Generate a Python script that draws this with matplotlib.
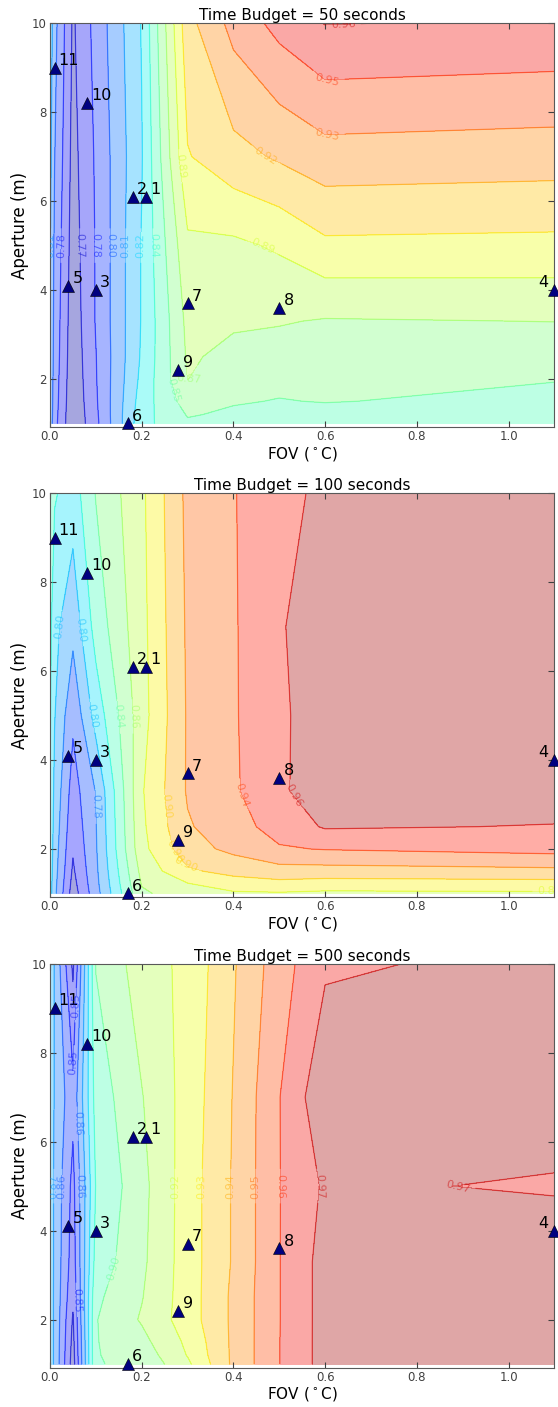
import matplotlib
matplotlib.use('Agg')
import matplotlib.pyplot as plt
import numpy as np

# grid the efficiency was evaluated on
fov = [0.0, 0.01, 0.05, 0.1, 0.2, 0.3, 0.4, 0.5, 0.6, 1.1]
aperture = [1.0, 1.2, 1.5, 2.0, 2.5, 3.3, 5.0, 7.0, 10.0]

# one row per aperture, one column per fov
eff_50 = [
    [0.805, 0.785, 0.752, 0.776, 0.835, 0.853, 0.851, 0.850, 0.849, 0.847],
    [0.806, 0.786, 0.752, 0.777, 0.834, 0.856, 0.853, 0.852, 0.851, 0.849],
    [0.807, 0.787, 0.753, 0.778, 0.832, 0.862, 0.856, 0.8545, 0.8555, 0.852],
    [0.808, 0.788, 0.754, 0.779, 0.829, 0.8702, 0.862, 0.858, 0.859, 0.8555],
    [0.809, 0.789, 0.755, 0.7795, 0.827, 0.872, 0.866, 0.864, 0.863, 0.861],
    [0.8105, 0.790, 0.756, 0.781, 0.826, 0.874, 0.872, 0.871, 0.869, 0.8702],
    [0.812, 0.792, 0.758, 0.781, 0.826, 0.882, 0.882, 0.887, 0.897, 0.896],
    [0.815, 0.7955, 0.760, 0.782, 0.824, 0.899, 0.910, 0.917, 0.924, 0.922],
    [0.820, 0.800, 0.763, 0.785, 0.826, 0.910, 0.935, 0.950, 0.9605, 0.958],
]
eff_100 = [
    [0.810, 0.785, 0.730, 0.772, 0.857, 0.870, 0.877, 0.878, 0.876, 0.877],
    [0.810, 0.786, 0.733, 0.774, 0.861, 0.878, 0.890, 0.893, 0.890, 0.891],
    [0.812, 0.788, 0.737, 0.776, 0.866, 0.897, 0.906, 0.912, 0.912, 0.915],
    [0.815, 0.790, 0.742, 0.778, 0.874, 0.912, 0.925, 0.938, 0.941, 0.947],
    [0.817, 0.792, 0.746, 0.779, 0.876, 0.918, 0.932, 0.948, 0.962, 0.959],
    [0.8195, 0.795, 0.751, 0.781, 0.878, 0.922, 0.937, 0.957, 0.970, 0.972],
    [0.823, 0.801, 0.764, 0.808, 0.872, 0.922, 0.938, 0.956, 0.972, 0.975],
    [0.826, 0.805, 0.786, 0.828, 0.874, 0.923, 0.938, 0.958, 0.972, 0.975],
    [0.832, 0.822, 0.810, 0.841, 0.876, 0.925, 0.939, 0.953, 0.965, 0.972],
]
eff_500 = [
    [0.876, 0.868, 0.835, 0.8995, 0.902, 0.918, 0.942, 0.9598, 0.974, 0.977],
    [0.876, 0.868, 0.836, 0.8995, 0.904, 0.9205, 0.942, 0.9598, 0.974, 0.977],
    [0.876, 0.868, 0.837, 0.8995, 0.907, 0.922, 0.942, 0.9598, 0.974, 0.977],
    [0.876, 0.868, 0.839, 0.8995, 0.911, 0.925, 0.942, 0.9597, 0.974, 0.977],
    [0.876, 0.868, 0.842, 0.898, 0.9095, 0.925, 0.942, 0.9597, 0.974, 0.977],
    [0.877, 0.868, 0.845, 0.894, 0.908, 0.925, 0.941, 0.9597, 0.974, 0.978],
    [0.877, 0.868, 0.847, 0.8905, 0.907, 0.925, 0.941, 0.9597, 0.9715, 0.9688],
    [0.878, 0.869, 0.853, 0.894, 0.9095, 0.924, 0.9405, 0.9597, 0.978, 0.9768],
    [0.878, 0.869, 0.838, 0.9005, 0.915, 0.9226, 0.939, 0.9555, 0.9685, 0.973],
]

levels_50 = [0.75, 0.765, 0.78, 0.795, 0.81, 0.825, 0.84, 0.855, 0.87, 0.885,
             0.90, 0.915, 0.93, 0.9450001, 0.96, 0.975]
levels_100 = [0.72, 0.74, 0.76, 0.78, 0.80, 0.82, 0.84, 0.86, 0.88, 0.90,
              0.92, 0.94, 0.96, 0.98]
levels_500 = [0.83, 0.84, 0.85, 0.86, 0.87, 0.88, 0.89, 0.90, 0.91, 0.92,
              0.93, 0.94, 0.95, 0.96, 0.97, 0.98]

budgets = [50, 100, 500]

# telescopes
tel_names = ['1', '2', '3', '4', '5', '6', '7', '8', '9', '10', '11']
tel_fov = [0.21, 0.18, 0.10, 1.10, 0.04, 0.17, 0.30, 0.50, 0.28, 0.08, 0.01]
tel_aperture = [6.1, 6.1, 4.0, 4.0, 4.1, 1.0, 3.7, 3.6, 2.2, 8.2, 9.0]

# where the contour labels sit
label_spots = [
    [(0.004, 5.0), (0.022, 5.0), (0.065, 5.0), (0.098, 5.0),
     (0.135, 5.0), (0.168, 5.0), (0.2, 5.0), (0.233, 5.0), (0.30, 6.8),
     (0.465, 5.0), (0.47, 7.0), (0.605, 7.4), (0.605, 8.7), (0.64, 9.98),
     (0.305, 1.93), (0.277, 1.78)],
    [(0.015, 7.0), (0.072, 6.94), (0.083, 4.98), (0.098, 2.95), (0.153, 4.98),
     (0.186, 4.98), (0.238, 2.95), (0.386, 3.05), (0.513, 3.05), (0.29, 2.1),
     (0.27, 1.8), (1.09, 1.04)],
    [(0.004, 5.0), (0.025, 5.0), (0.07, 5.0),
     (0.269, 5.0), (0.331, 5.0), (0.393, 5.0), (0.455, 5.0), (0.52, 5.0),
     (0.583, 5.0), (0.89, 5.0), (0.05, 9.07), (0.05, 7.78), (0.05, 6.4),
     (0.05, 2.44), (0.16, 3.07)],
]

all_eff = [eff_50, eff_100, eff_500]
all_levels = [levels_50, levels_100, levels_500]

X, Y = np.meshgrid(fov, aperture)

fig = plt.figure(figsize=(5.58, 14.07), dpi=100)
bottoms = [0.6965, 0.3625, 0.0280]

for k in range(3):
    ax = fig.add_axes([0.0896, bottoms[k], 0.904, 0.2870])
    Z = np.array(all_eff[k])
    lev = all_levels[k]
    ax.contourf(X, Y, Z, levels=lev, cmap='jet', alpha=0.35)
    cs = ax.contour(X, Y, Z, levels=lev, cmap='jet', alpha=0.5, linewidths=0.9)
    ax.clabel(cs, fmt='%.2f', fontsize=8, inline=True, manual=label_spots[k])

    ax.plot(tel_fov, tel_aperture, '^', color='navy', ms=9,
            mec='black', mew=0.4, clip_on=False, zorder=5)
    for name, fx, ay in zip(tel_names, tel_fov, tel_aperture):
        if fx >= max(fov):
            ax.annotate(name, (fx, ay), xytext=(-4, 2), textcoords='offset points',
                        ha='right', va='baseline', fontsize=11.5)
        else:
            ax.annotate(name, (fx, ay), xytext=(3, 2), textcoords='offset points',
                        ha='left', va='baseline', fontsize=11.5)

    ax.set_xlim(0, 1.1)
    ax.set_ylim(0.92, 10)
    ax.set_xticks([0.0, 0.2, 0.4, 0.6, 0.8, 1.0])
    ax.set_yticks([2, 4, 6, 8, 10])
    ax.tick_params(direction='in', top=True, right=True, labelsize=8.5,
                   length=4, colors='0.25', pad=2.5)
    for sp in ax.spines.values():
        sp.set_color('0.35')
    ax.set_xlabel(r'FOV ($^\circ$C)', fontsize=11, labelpad=1)
    ax.set_ylabel('Aperture (m)', fontsize=12, labelpad=2)
    ax.set_title(f'Time Budget = {budgets[k]} seconds', fontsize=11, pad=2)

plt.savefig('out.png', dpi=100)
